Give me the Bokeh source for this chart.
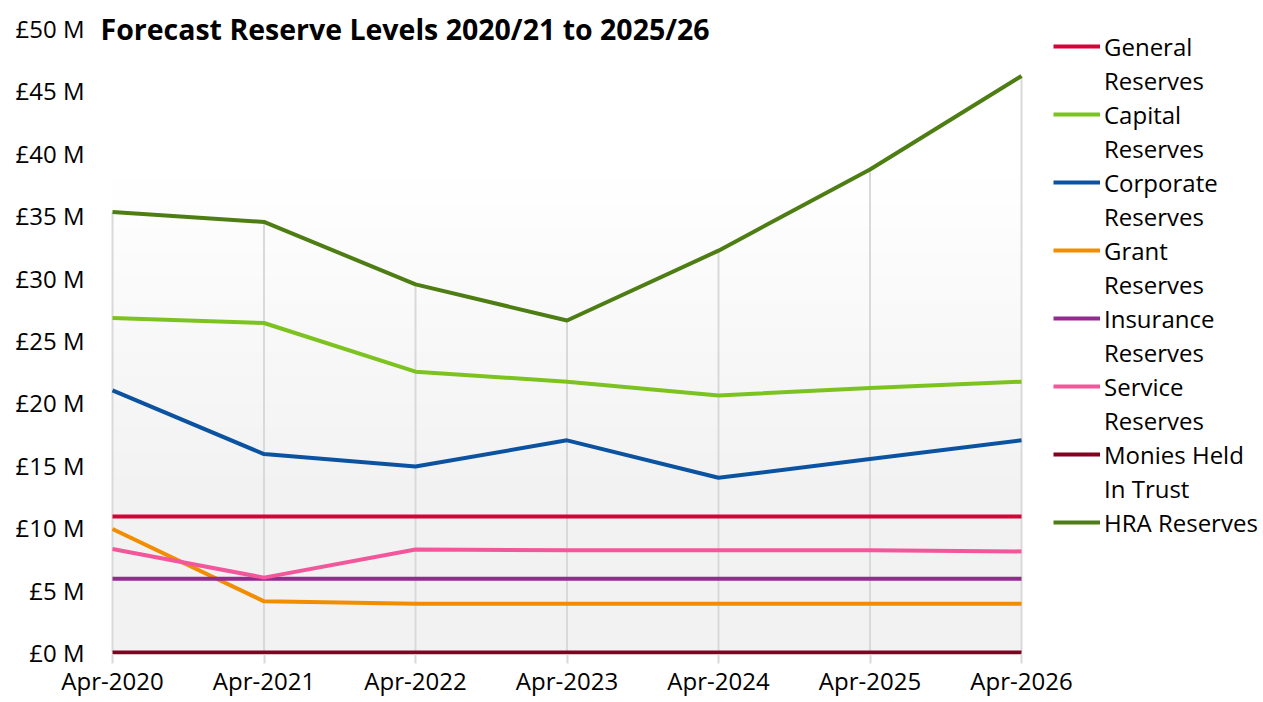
import numpy as np
from bokeh.plotting import figure
from bokeh.models import (FixedTicker, PrintfTickFormatter, Legend, LegendItem, Label, Range1d)
from bokeh.embed import file_html
from bokeh.resources import INLINE

# ---- data ----
x_labels = ["Apr-2020", "Apr-2021", "Apr-2022", "Apr-2023", "Apr-2024", "Apr-2025", "Apr-2026"]
general = [10.9, 10.9, 10.9, 10.9, 10.9, 10.9, 10.9]
capital = [26.8, 26.4, 22.5, 21.7, 20.6, 21.2, 21.7]
corporate = [21.0, 15.9, 14.9, 17.0, 14.0, 15.5, 17.0]
grant = [9.9, 4.1, 3.9, 3.9, 3.9, 3.9, 3.9]
insurance = [5.9, 5.9, 5.9, 5.9, 5.9, 5.9, 5.9]
service = [8.3, 6.0, 8.25, 8.2, 8.2, 8.2, 8.1]
monies = [0.0, 0.0, 0.0, 0.0, 0.0, 0.0, 0.0]
hra = [35.3, 34.5, 29.5, 26.6, 32.2, 38.7, 46.2]

series_names = ["General Reserves", "Capital Reserves", "Corporate Reserves", "Grant Reserves",
                "Insurance Reserves", "Service Reserves", "Monies Held In Trust", "HRA Reserves"]
# legend label lines as wrapped in the reference
legend_lines = [["General", "Reserves"], ["Capital", "Reserves"], ["Corporate", "Reserves"],
                ["Grant", "Reserves"], ["Insurance", "Reserves"], ["Service", "Reserves"],
                ["Monies Held", "In Trust"], ["HRA Reserves"]]
series_values = [general, capital, corporate, grant, insurance, service, monies, hra]
series_colors = ["#d80037", "#7dc31f", "#0b53a0", "#f28c00", "#932a92", "#f2579c", "#820020", "#4e7d14"]

y_max = 50
y_step = 5
title_text = "Forecast Reserve Levels 2020/21 to 2025/26"
FONT = "Open Sans"

xs = list(range(len(x_labels)))
x_last = len(x_labels) - 1

# geometry (px)
W, H = 1263, 702
border_left, border_top, border_bottom = 100, 8, 48
left_pad_px, top_pad_px, right_pad_px, bottom_pad_px = 12, 20, 242, 2
frame_w = W - border_left
frame_h = H - border_top - border_bottom
data_w_px = frame_w - left_pad_px - right_pad_px
data_h_px = frame_h - top_pad_px - bottom_pad_px
px_per_x = data_w_px / x_last
px_per_y = data_h_px / y_max

p = figure(width=W, height=H, output_backend="svg", toolbar_location=None,
           x_range=Range1d(-left_pad_px / px_per_x, x_last + right_pad_px / px_per_x),
           y_range=Range1d(-bottom_pad_px / px_per_y, y_max + top_pad_px / px_per_y),
           min_border_left=border_left, min_border_right=0, min_border_top=border_top,
           min_border_bottom=border_bottom)
p.outline_line_color = None
p.background_fill_color = "white"
p.border_fill_color = "white"

# gradient background of the plot area
n = 200
vals = np.linspace(0, y_max, n)
t = np.clip((vals - 12.0) / (38.0 - 12.0), 0, 1)
g = (242 + (255 - 242) * t).astype(np.uint32)
img = np.zeros((n, 1), dtype=np.uint32)
view = img.view(dtype=np.uint8).reshape((n, 1, 4))
view[:, 0, 0] = g
view[:, 0, 1] = g
view[:, 0, 2] = g
view[:, 0, 3] = 255
p.image_rgba(image=[img], x=0, y=0, dw=x_last, dh=y_max, level="image")

# drop lines (from highest series value down to the axis)
tops = [max(v[i] for v in series_values) for i in xs]
p.segment(x0=xs, y0=[0] * len(xs), x1=xs, y1=tops, line_color="#d9d9d9", line_width=2)

# axes
p.xaxis.ticker = FixedTicker(ticks=xs)
p.xaxis.major_label_overrides = {i: l for i, l in enumerate(x_labels)}
p.yaxis.ticker = FixedTicker(ticks=list(range(0, y_max + 1, y_step)))
p.yaxis.formatter = PrintfTickFormatter(format="£%d M")
for ax in (p.xaxis, p.yaxis):
    ax.axis_line_color = None
    ax.minor_tick_line_color = None
    ax.major_label_text_font = FONT
    ax.major_label_text_font_size = "24px"
    ax.major_label_text_color = "#000000"
p.xaxis.major_tick_line_color = "#d9d9d9"
p.xaxis.major_tick_line_width = 2
p.xaxis.major_tick_out = 9
p.xaxis.major_tick_in = 0
p.xaxis.major_label_standoff = 0
p.yaxis.major_tick_line_color = None
p.yaxis.major_tick_out = 0
p.yaxis.major_tick_in = 0
p.yaxis.major_label_standoff = 16

p.xgrid.grid_line_color = None
p.ygrid.grid_line_color = None

items = []
for name, lines, vals_, col in zip(series_names, legend_lines, series_values, series_colors):
    r = p.line(xs, vals_, line_color=col, line_width=4, name=name)
    items.append(LegendItem(label=lines[0], renderers=[r]))
    for extra in lines[1:]:
        items.append(LegendItem(label=extra, renderers=[]))

row_h = 34
legend_top_px = 29  # from top of canvas
legend_bottom_from_frame_bottom = (H - border_bottom) - (legend_top_px + row_h * len(items))
legend = Legend(items=items,
                location=(data_w_px + left_pad_px + 32, legend_bottom_from_frame_bottom),
                glyph_width=47, glyph_height=row_h, label_height=row_h,
                label_standoff=4, spacing=0, padding=0, margin=0,
                label_text_font=FONT, label_text_font_size="24px", label_text_color="#000000",
                border_line_color=None, background_fill_alpha=0)
p.add_layout(legend)

title = Label(x=0, y=y_max, x_offset=-left_pad_px, text=title_text, text_font=FONT,
              text_font_size="28.5px", text_font_style="bold", text_baseline="middle",
              text_color="#000000")
p.add_layout(title)

open("out.html", "w").write(file_html(p, INLINE))
